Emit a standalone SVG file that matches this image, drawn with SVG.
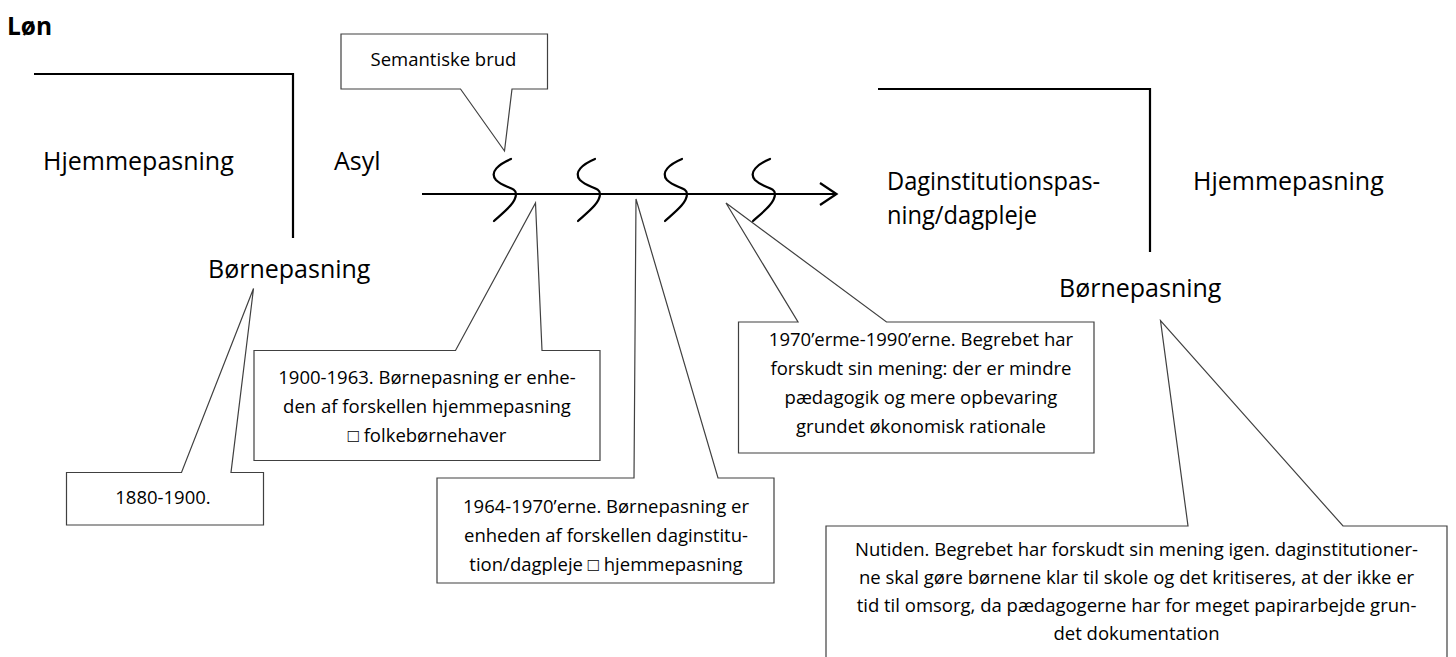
<svg xmlns="http://www.w3.org/2000/svg" width="1456" height="657" viewBox="0 0 1456 657">
<style>
.lbl{font-family:"Open Sans","Liberation Sans",sans-serif;font-size:25px;fill:#000}
.ttl{font-family:"Open Sans","Liberation Sans",sans-serif;font-size:24.5px;font-weight:bold;fill:#000}
.ct{font-family:"Open Sans","Liberation Sans","DejaVu Sans",sans-serif;font-size:18.5px;fill:#000;text-anchor:middle}
.co{fill:#fff;stroke:#404040;stroke-width:1.2;stroke-linejoin:miter}
.ln{fill:none;stroke:#000;stroke-width:2.2}
.sc{fill:none;stroke:#000;stroke-width:2.2;stroke-linecap:round}
</style>
<defs>
<path id="s" d="M -5,-35 C -17,-30 -27,-22 -20,-14 C -12,-6 0,-7 0,0 C 0,9 -12,18 -22,27"/>
</defs>
<rect width="1456" height="657" fill="#fff"/>

<g id="connectors">
  <polyline class="ln" points="34,74 293,74 293,238"/>
  <polyline class="ln" points="878,89 1150,89 1150,252"/>
  <line class="ln" x1="422" y1="194" x2="836" y2="194"/>
  <polyline class="ln" points="820,183 836.5,194 820,205"/>
  <use href="#s" class="sc" x="516" y="194"/>
  <use href="#s" class="sc" x="600" y="194"/>
  <use href="#s" class="sc" x="687" y="194"/>
  <use href="#s" class="sc" x="775" y="194"/>
</g>

<g id="title"><text class="ttl" x="7" y="35">Løn</text></g>
<g id="hjemmepasning-left"><text class="lbl" x="43" y="170">Hjemmepasning</text></g>
<g id="asyl"><text class="lbl" x="334" y="170">Asyl</text></g>
<g id="boernepasning-left"><text class="lbl" x="208" y="278">Børnepasning</text></g>
<g id="daginstitution"><text class="lbl" x="887" y="190" textLength="213" lengthAdjust="spacingAndGlyphs">Daginstitutionspas-</text><text class="lbl" x="887" y="224" textLength="150" lengthAdjust="spacingAndGlyphs">ning/dagpleje</text></g>
<g id="hjemmepasning-right"><text class="lbl" x="1193" y="190">Hjemmepasning</text></g>
<g id="boernepasning-right"><text class="lbl" x="1059" y="297">Børnepasning</text></g>

<g id="semantiske-brud">
  <path class="co" d="M341,34 H547.5 V89 H512 L504.5,151 L460.5,89 H341 Z"/>
  <text class="ct" x="443.5" y="66">Semantiske brud</text>
</g>

<g id="c1880">
  <path class="co" d="M66.5,472.5 H181.5 L253.5,288.5 L231,472.5 H263.5 V525 H66.5 Z"/>
  <text class="ct" x="163" y="504">1880-1900.</text>
</g>

<g id="c1900">
  <path class="co" d="M254,350.5 H455.5 L535.5,203 L542,350.5 H600 V460.5 H254 Z"/>
  <text class="ct" x="427" y="384">1900-1963. Børnepasning er enhe-</text>
  <text class="ct" x="427" y="413">den af forskellen hjemmepasning</text>
  <text class="ct" x="427" y="442">□ folkebørnehaver</text>
</g>

<g id="c1964">
  <path class="co" d="M437,478 H634 L636,199 L718,478 H774 V583 H437 Z"/>
  <text class="ct" x="606" y="513">1964-1970’erne. Børnepasning er</text>
  <text class="ct" x="606" y="542">enheden af forskellen daginstitu-</text>
  <text class="ct" x="606" y="571">tion/dagpleje □ hjemmepasning</text>
</g>

<g id="c1970">
  <path class="co" d="M738.5,322 H798 L726,203 L886.5,322 H1094 V453 H738.5 Z"/>
  <text class="ct" x="921" y="346">1970’erme-1990’erne. Begrebet har</text>
  <text class="ct" x="921" y="375">forskudt sin mening: der er mindre</text>
  <text class="ct" x="921" y="404">pædagogik og mere opbevaring</text>
  <text class="ct" x="921" y="433">grundet økonomisk rationale</text>
</g>

<g id="nutiden">
  <path class="co" d="M826,526 H1188 L1160.5,320.5 L1343,526 H1447 V670 H826 Z"/>
  <text class="ct" x="1136.5" y="556">Nutiden. Begrebet har forskudt sin mening igen. daginstitutioner-</text>
  <text class="ct" x="1136.5" y="584">ne skal gøre børnene klar til skole og det kritiseres, at der ikke er</text>
  <text class="ct" x="1136.5" y="612">tid til omsorg, da pædagogerne har for meget papirarbejde grun-</text>
  <text class="ct" x="1136.5" y="640">det dokumentation</text>
</g>
</svg>
